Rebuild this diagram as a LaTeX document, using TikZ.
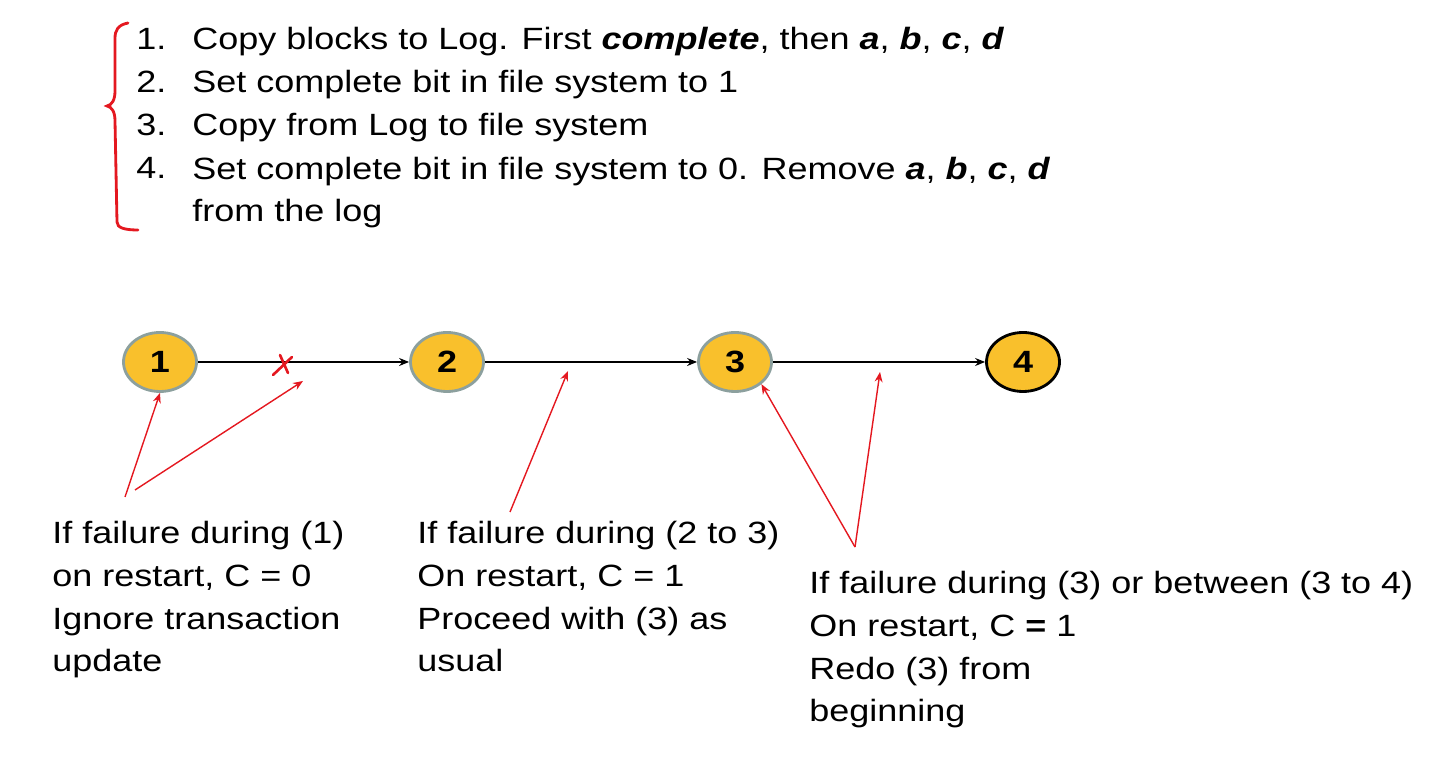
\documentclass[tikz,border=0pt]{standalone}
\usepackage{fontspec}
\setmainfont[FakeStretch=1.17]{Liberation Sans}
\usetikzlibrary{shapes.geometric,arrows.meta}
\definecolor{stagefill}{RGB}{249,192,44}
\definecolor{stageedge}{RGB}{140,160,158}
\definecolor{notered}{RGB}{228,24,32}
\tikzset{
	stage/.style={ellipse, draw=stageedge, line width=1.6pt, fill=stagefill, minimum width=1.46cm, minimum height=1.18cm, inner sep=0pt, font=\fontsize{17.5}{20}\selectfont\bfseries},
	txt/.style={anchor=base west, inner sep=0pt, align=left, font=\fontsize{17.5}{24.4}\selectfont},
	flow/.style={-{Stealth[length=2mm,width=1.6mm]}, line width=0.8pt},
	hint/.style={notered, -{Stealth[length=2mm,width=1.6mm]}, line width=0.8pt},
}
\newcommand{\bi}[1]{\textbf{\textit{#1}}}

\begin{document}
\begin{tikzpicture}
	\useasboundingbox (0,0) rectangle (28.9,15.22);

	% the four steps (base = last line)
	\node[txt] (l1) at (2.72,14.22) {1.};
	\node[txt] (l2) at (2.72,13.36) {2.};
	\node[txt] (l3) at (2.72,12.50) {3.};
	\node[txt] (l4) at (2.72,11.64) {4.};
	\node[txt] (t1) at (3.84,14.22) {Copy blocks to Log. First \bi{complete}, then \bi{a}, \bi{b}, \bi{c}, \bi{d}};
	\node[txt] (t2) at (3.84,13.36) {Set complete bit in file system to 1};
	\node[txt] (t3) at (3.84,12.50) {Copy from Log to file system};
	\node[txt] (t4) at (3.84,10.78) {Set complete bit in file system to 0. Remove \bi{a}, \bi{b}, \bi{c}, \bi{d}\\from the log};

	\draw[notered, line width=1.6pt, line cap=round] (2.56,14.76) .. controls (2.36,14.72) and (2.30,14.62) .. (2.30,14.45) -- (2.30,13.40) .. controls (2.30,13.22) and (2.24,13.12) .. (2.14,13.10) .. controls (2.24,13.08) and (2.30,12.98) .. (2.30,12.80) -- (2.34,10.78) .. controls (2.34,10.66) and (2.50,10.62) .. (2.76,10.62);

	% stages
	\node[stage] (s1) at (3.2,7.98) {1};
	\node[stage] (s2) at (8.94,7.98) {2};
	\node[stage] (s3) at (14.7,7.98) {3};
	\node[stage, draw=black] (s4) at (20.46,7.98) {4};

	\draw[flow] (s1) -- (s2);
	\draw[flow] (s2) -- (s3);
	\draw[flow] (s3) -- (s4);

	\draw[notered, line width=1.5pt, line cap=round] (5.60,8.12) -- (5.76,7.76);
	\draw[notered, line width=1.5pt, line cap=round] (5.84,8.08) -- (5.46,7.72);

	% what happens on failure
	\node[txt] (f1) at (1.04,1.78) {If failure during (1)\\on restart, C = 0\\Ignore transaction\\update};
	\node[txt] (f2) at (8.34,1.78) {If failure during (2 to 3)\\On restart, C = 1\\Proceed with (3) as\\usual};
	\node[txt] (f3) at (16.18,0.78) {If failure during (3) or between (3 to 4)\\On restart, C \textbf{=} 1\\Redo (3) from\\beginning};

	\coordinate (a1) at (2.5,5.28);
	\coordinate (a2) at (2.7,5.42);
	\coordinate (b1) at (6.06,7.6);
	\coordinate (a3) at (10.2,4.98);
	\coordinate (b3) at (11.36,7.8);
	\coordinate (a4) at (17.1,4.28);
	\coordinate (b4) at (17.6,7.78);

	\draw[hint] (a1) -- (s1.south);
	\draw[hint] (a2) -- (b1);
	\draw[hint] (a3) -- (b3);
	\draw[hint] (a4) -- (s3.-40);
	\draw[hint] (a4) -- (b4);
\end{tikzpicture}
\end{document}
